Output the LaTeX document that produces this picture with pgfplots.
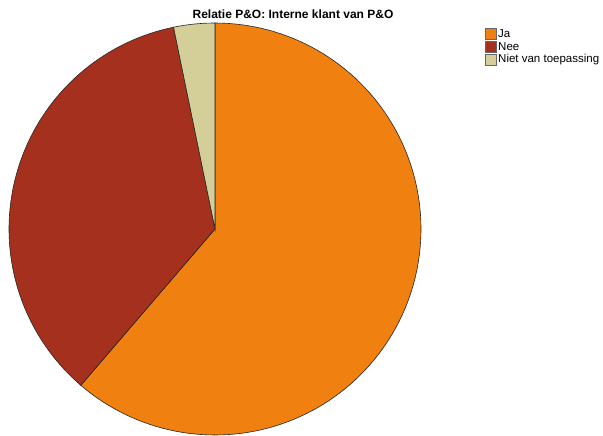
\documentclass[border=0pt]{standalone}
\usepackage{pgfplots}
\pgfplotsset{compat=1.18}
\usepackage{pgfplotstable}
\usepackage{fontspec}
\setmainfont{Liberation Sans}
\definecolor{ja}{RGB}{240,128,16}
\definecolor{nee}{RGB}{165,48,30}
\definecolor{nvt}{RGB}{212,206,152}
\pgfplotstableread{
label value
Ja 19
Nee 11
NVT 1
}\piedata
\pgfplotstablegetelem{0}{value}\of\piedata\let\vJa\pgfplotsretval
\pgfplotstablegetelem{1}{value}\of\piedata\let\vNee\pgfplotsretval
\pgfplotstablegetelem{2}{value}\of\piedata\let\vNvt\pgfplotsretval
\pgfmathsetmacro\tot{\vJa+\vNee+\vNvt}
\pgfmathsetmacro\aA{360*\vJa/\tot}
\pgfmathsetmacro\aB{360*(\vJa+\vNee)/\tot}
\begin{document}
\begin{tikzpicture}
\path (0,0) rectangle (603pt,435pt);
\begin{axis}[at={(0,0)},anchor=south west, scale only axis, width=603pt, height=435pt,
  xmin=0,xmax=603,ymin=0,ymax=435, y dir=reverse, hide axis, clip=false]
\addplot[fill=ja, draw=black!85, line width=0.6pt, domain=0:\aA, samples=120]
  ({215+206*sin(x)},{229-206*cos(x)}) -- (axis cs:215,229) -- cycle;
\addplot[fill=nee, draw=black!85, line width=0.6pt, domain=\aA:\aB, samples=80]
  ({215+206*sin(x)},{229-206*cos(x)}) -- (axis cs:215,229) -- cycle;
\addplot[fill=nvt, draw=black!85, line width=0.6pt, domain=\aB:360, samples=20]
  ({215+206*sin(x)},{229-206*cos(x)}) -- (axis cs:215,229) -- cycle;
\node[font=\bfseries\fontsize{12}{14}\selectfont] at (axis cs:293,14) {Relatie P\&O: Interne klant van P\&O};
\draw[fill=ja, draw=black!60] (axis cs:485,28.5) rectangle (axis cs:496,39);
\draw[fill=nee, draw=black!60] (axis cs:485,41.5) rectangle (axis cs:496,52);
\draw[fill=nvt, draw=black!60] (axis cs:485,54.5) rectangle (axis cs:496,65);
\node[anchor=west, font=\fontsize{11.5}{13}\selectfont, inner sep=0pt] at (axis cs:498,34) {Ja};
\node[anchor=west, font=\fontsize{11.5}{13}\selectfont, inner sep=0pt] at (axis cs:498,47) {Nee};
\node[anchor=west, font=\fontsize{11.5}{13}\selectfont, inner sep=0pt] at (axis cs:498,60) {Niet van toepassing};
\end{axis}
\end{tikzpicture}
\end{document}
